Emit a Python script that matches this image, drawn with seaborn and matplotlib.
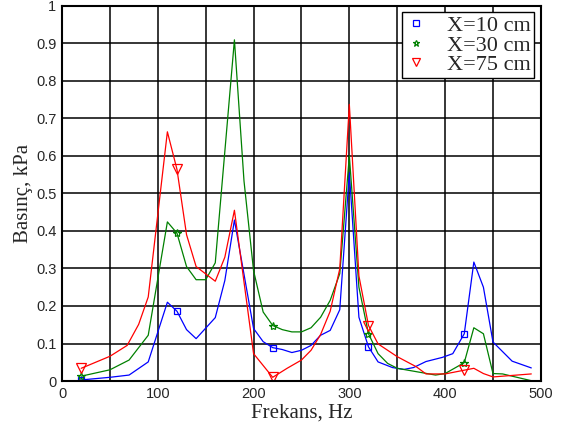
import matplotlib
matplotlib.use("Agg")
import matplotlib.pyplot as plt
from matplotlib.lines import Line2D
from matplotlib.ticker import MultipleLocator
import seaborn as sns
import pandas as pd

# X=10 cm
hz_10 = [20, 50, 70, 90, 110, 120, 130, 140, 160, 170, 180, 200, 210, 220, 230, 240, 250,
         260, 270, 280, 290, 300, 310, 320, 330, 345, 357, 367, 380, 397, 408, 420, 430,
         440, 450, 470, 490]
p_10 = [0.003, 0.01, 0.016, 0.051, 0.21, 0.186, 0.137, 0.113, 0.169, 0.268, 0.429, 0.14,
        0.105, 0.089, 0.084, 0.076, 0.082, 0.095, 0.122, 0.135, 0.19, 0.555, 0.17, 0.091,
        0.051, 0.036, 0.031, 0.036, 0.052, 0.063, 0.073, 0.126, 0.317, 0.25, 0.104, 0.053,
        0.035]

# X=30 cm
hz_30 = [20, 50, 70, 90, 110, 120, 130, 140, 150, 160, 180, 190, 200, 210, 220, 230, 240,
         250, 260, 270, 280, 290, 300, 310, 320, 330, 340, 350, 370, 390, 400, 420, 430,
         440, 450, 460, 490]
p_30 = [0.013, 0.03, 0.056, 0.122, 0.424, 0.394, 0.305, 0.27, 0.27, 0.315, 0.909, 0.533,
        0.294, 0.184, 0.148, 0.137, 0.131, 0.131, 0.142, 0.17, 0.215, 0.286, 0.6, 0.25,
        0.126, 0.073, 0.047, 0.034, 0.025, 0.016, 0.02, 0.049, 0.142, 0.126, 0.02, 0.019,
        0.001]

# X=75 cm
hz_75 = [20, 50, 68, 80, 90, 110, 120, 130, 140, 160, 170, 180, 200, 220, 235, 250, 260,
         270, 280, 290, 300, 310, 320, 330, 350, 370, 380, 400, 420, 430, 440, 450, 490]
p_75 = [0.034, 0.066, 0.095, 0.151, 0.224, 0.664, 0.564, 0.39, 0.305, 0.266, 0.33, 0.455,
        0.073, 0.01, 0.034, 0.056, 0.082, 0.124, 0.186, 0.299, 0.737, 0.28, 0.148, 0.099,
        0.065, 0.038, 0.019, 0.019, 0.029, 0.034, 0.02, 0.011, 0.019]

labels = ["X=10 cm", "X=30 cm", "X=75 cm"]
marker_hz = [20, 120, 220, 320, 420]
x_ticks = [0, 100, 200, 300, 400, 500]
y_ticks = [0, 0.1, 0.2, 0.3, 0.4, 0.5, 0.6, 0.7, 0.8, 0.9, 1]
y_ticklabels = ["0", "0.1", "0.2", "0.3", "0.4", "0.5", "0.6", "0.7", "0.8", "0.9", "1"]

series = [
    (hz_10, p_10, "blue", "s", 5),
    (hz_30, p_30, "green", "*", 6),
    (hz_75, p_75, "red", "v", 7),
]

sns.set_style("white")
plt.rcParams['font.family'] = ['Liberation Sans', 'DejaVu Sans']

fig = plt.figure(figsize=(5.64, 4.37), dpi=100)
ax = fig.add_axes([0.110, 0.128, 0.849, 0.859])

handles = []
for (hz, p, color, mk, ms), lab in zip(series, labels):
    df = pd.DataFrame({"Frekans": hz, "Basinc": p})
    idx = [i for i, h in enumerate(hz) if h in marker_hz]
    sns.lineplot(data=df, x="Frekans", y="Basinc", ax=ax, color=color, lw=0.9,
                 marker=mk, markevery=idx, mfc="none", mec=color, ms=ms, mew=0.9,
                 estimator=None, sort=False)
    handles.append(Line2D([], [], ls="none", marker=mk, mfc="none", mec=color,
                          ms=ms - 1, mew=0.9, label=lab))

ax.set_xlim(0, 500)
ax.set_ylim(0, 1)
ax.set_xticks(x_ticks)
ax.xaxis.set_minor_locator(MultipleLocator(50))
ax.set_yticks(y_ticks, y_ticklabels)
ax.grid(True, which="both", color="black", lw=1.1)
ax.set_axisbelow(True)
ax.tick_params(which="both", length=0, labelsize=10.5, pad=4)
for s in ax.spines.values():
    s.set_color("black")
    s.set_linewidth(1.5)

ax.set_xlabel("Frekans, Hz", fontsize=15, family="Liberation Serif", labelpad=2)
ax.set_ylabel("Basınç, kPa", fontsize=15, family="Liberation Serif", labelpad=2)

leg = ax.legend(handles=handles, loc="upper right", frameon=True,
                fancybox=False, edgecolor="black", framealpha=1, labelspacing=-0.05,
                handletextpad=0.9, borderpad=0.15, handlelength=1.0,
                prop={"family": "Liberation Serif", "size": 16}, borderaxespad=0.3)
leg.get_frame().set_linewidth(1.0)

fig.savefig("out.png", dpi=100)
